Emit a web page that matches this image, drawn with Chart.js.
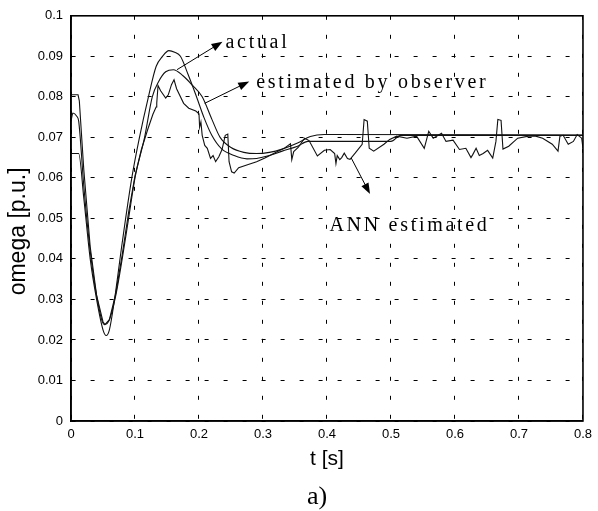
<!DOCTYPE html>
<html>
<head>
<meta charset="utf-8">
<script src="https://cdn.jsdelivr.net/npm/chart.js@4.4.0/dist/chart.umd.min.js"></script>
<style>
  html, body { margin: 0; padding: 0; background: #fff; }
</style>
</head>
<body>
<canvas id="myChart" width="598" height="511"></canvas>
<script>
// t [s] and omega [p.u.]
const tActual = [0, 0.012, 0.02, 0.03, 0.04, 0.05, 0.055, 0.06, 0.068, 0.08, 0.095, 0.107, 0.121, 0.133, 0.143, 0.153, 0.162, 0.171, 0.183, 0.195, 0.208, 0.22, 0.235, 0.255, 0.275, 0.29, 0.31, 0.33, 0.354, 0.37, 0.5, 0.515, 0.8]
const wActual = [0.066, 0.066, 0.055, 0.04, 0.03, 0.0225, 0.0211, 0.0225, 0.03, 0.044, 0.06, 0.07, 0.08, 0.0875, 0.09, 0.0914, 0.091, 0.09, 0.0855, 0.0805, 0.0748, 0.0705, 0.0672, 0.0655, 0.0647, 0.0648, 0.0655, 0.0666, 0.0678, 0.069, 0.069, 0.0705, 0.0705]

const tObserver = [0, 0.003, 0.009, 0.012, 0.02, 0.03, 0.04, 0.052, 0.06, 0.07, 0.08, 0.09, 0.1, 0.115, 0.127, 0.137, 0.148, 0.16, 0.175, 0.19, 0.205, 0.22, 0.233, 0.25, 0.27, 0.29, 0.31, 0.33, 0.354, 0.374, 0.396, 0.8]
const wObserver = [0.074, 0.076, 0.0752, 0.074, 0.058, 0.042, 0.031, 0.0238, 0.025, 0.031, 0.04, 0.05, 0.06, 0.07, 0.08, 0.0838, 0.0862, 0.0867, 0.0852, 0.0828, 0.08, 0.0745, 0.07, 0.0675, 0.0663, 0.066, 0.0663, 0.0671, 0.0686, 0.0702, 0.0707, 0.0706]

const tAnn = [0, 0.011, 0.013, 0.02, 0.03, 0.04, 0.05, 0.053, 0.06, 0.07, 0.08, 0.09, 0.1, 0.11, 0.12, 0.128, 0.133, 0.134, 0.136, 0.14, 0.148, 0.152, 0.157, 0.161, 0.165, 0.176, 0.184, 0.195, 0.2, 0.201, 0.203, 0.205, 0.209, 0.213, 0.218, 0.222, 0.226, 0.231, 0.236, 0.241, 0.245, 0.247, 0.251, 0.255, 0.262, 0.277, 0.29, 0.303, 0.319, 0.334, 0.343, 0.345, 0.348, 0.355, 0.365, 0.372, 0.385, 0.396, 0.405, 0.412, 0.414, 0.416, 0.42, 0.423, 0.427, 0.432, 0.436, 0.444, 0.455, 0.458, 0.463, 0.466, 0.473, 0.489, 0.498, 0.509, 0.525, 0.54, 0.552, 0.559, 0.566, 0.579, 0.586, 0.597, 0.607, 0.617, 0.625, 0.628, 0.633, 0.638, 0.644, 0.651, 0.659, 0.664, 0.667, 0.672, 0.675, 0.684, 0.698, 0.715, 0.726, 0.737, 0.752, 0.761, 0.764, 0.769, 0.777, 0.785, 0.791, 0.798, 0.8]
const wAnn = [0.0805, 0.0805, 0.079, 0.062, 0.043, 0.031, 0.0245, 0.0238, 0.025, 0.0315, 0.041, 0.0515, 0.0605, 0.067, 0.072, 0.0757, 0.0775, 0.0785, 0.0828, 0.0815, 0.0797, 0.0805, 0.083, 0.0842, 0.082, 0.0784, 0.0772, 0.0765, 0.0758, 0.0725, 0.0738, 0.0705, 0.068, 0.0673, 0.0648, 0.0655, 0.064, 0.0652, 0.067, 0.0705, 0.0708, 0.064, 0.0615, 0.0612, 0.0625, 0.0633, 0.064, 0.0649, 0.0662, 0.0674, 0.0684, 0.0645, 0.0665, 0.0675, 0.0698, 0.0692, 0.0654, 0.0668, 0.067, 0.066, 0.0635, 0.0655, 0.0645, 0.065, 0.0661, 0.0648, 0.0646, 0.0661, 0.0683, 0.0744, 0.074, 0.0673, 0.0666, 0.0683, 0.0695, 0.0703, 0.0698, 0.0703, 0.0673, 0.0715, 0.0698, 0.071, 0.069, 0.0693, 0.067, 0.0673, 0.065, 0.0658, 0.0673, 0.0655, 0.066, 0.0668, 0.0649, 0.069, 0.0744, 0.0742, 0.0671, 0.0678, 0.0698, 0.0703, 0.0703, 0.0698, 0.0683, 0.0666, 0.0703, 0.0705, 0.0683, 0.069, 0.0707, 0.0698, 0.0673]

// annotation labels and arrows, in data units [t, omega]
const notes = [
  { text: 'actual', at: [0.2414, 0.0921], from: [0.1656, 0.0867], to: [0.2367, 0.0936] },
  { text: 'estimated by observer', at: [0.2894, 0.0821], from: [0.2089, 0.0784], to: [0.2785, 0.0838] },
  { text: 'ANN estimated', at: [0.4039, 0.0469], from: [0.4379, 0.0649], to: [0.4673, 0.056] }
]

const pairs = (ts, ws) => ts.map((t, i) => ({ x: t, y: ws[i] }))

const buildLine = (ts, ws, smooth) => ({
  data: pairs(ts, ws),
  borderColor: '#111',
  borderWidth: 1.1,
  pointRadius: 0,
  fill: false,
  cubicInterpolationMode: smooth ? 'monotone' : 'default',
  tension: 0
})

// matlab style labels: 0.1, 0.01 ... no trailing zeros
const plainTick = v => String(parseFloat(Number(v).toFixed(4)))

const arrow = (ctx, x1, y1, x2, y2) => {
  let ang = Math.atan2(y2 - y1, x2 - x1)
  ctx.beginPath()
  ctx.moveTo(x1, y1)
  ctx.lineTo(x2 - 8 * Math.cos(ang), y2 - 8 * Math.sin(ang))
  ctx.stroke()
  ctx.beginPath()
  ctx.moveTo(x2, y2)
  ctx.lineTo(x2 - 11 * Math.cos(ang) + 4 * Math.sin(ang), y2 - 11 * Math.sin(ang) - 4 * Math.cos(ang))
  ctx.lineTo(x2 - 11 * Math.cos(ang) - 4 * Math.sin(ang), y2 - 11 * Math.sin(ang) + 4 * Math.cos(ang))
  ctx.closePath()
  ctx.fill()
}

const extras = {
  id: 'extras',
  afterDraw(chart) {
    const { ctx, chartArea: a, scales: { x, y } } = chart
    ctx.save()
    ctx.strokeStyle = '#000'
    ctx.fillStyle = '#000'
    ctx.lineWidth = 1.6
    ctx.strokeRect(a.left, a.top, a.right - a.left, a.bottom - a.top)

    ctx.lineWidth = 1
    notes.forEach(n => {
      arrow(ctx, x.getPixelForValue(n.from[0]), y.getPixelForValue(n.from[1]),
                 x.getPixelForValue(n.to[0]), y.getPixelForValue(n.to[1]))
    })
    ctx.font = '20px "Liberation Serif", "Times New Roman", serif'
    ctx.letterSpacing = '2.7px'
    ctx.textAlign = 'left'
    ctx.textBaseline = 'alphabetic'
    notes.forEach(n => {
      ctx.fillText(n.text, x.getPixelForValue(n.at[0]), y.getPixelForValue(n.at[1]))
    })
    ctx.letterSpacing = '0px'

    // y title sits a little below the middle of the axis in the original
    ctx.save()
    ctx.translate(19, (a.top + a.bottom) / 2 + 13)
    ctx.rotate(-Math.PI / 2)
    ctx.font = '23px "Liberation Sans", Arial, sans-serif'
    ctx.textAlign = 'center'
    ctx.textBaseline = 'middle'
    ctx.fillText('omega [p.u.]', 0, 0)
    ctx.restore()

    ctx.font = '26px "Liberation Serif", "Times New Roman", serif'
    ctx.textAlign = 'center'
    ctx.textBaseline = 'middle'
    ctx.fillText('a)', (a.left + a.right) / 2 - 10, 497)
    ctx.restore()
  }
}

const tickFont = { family: '"Liberation Sans", Arial, sans-serif', size: 13 }

new Chart(document.getElementById('myChart').getContext('2d'), {
  type: 'line',
  data: {
    datasets: [
      buildLine(tActual, wActual, true),
      buildLine(tObserver, wObserver, true),
      buildLine(tAnn, wAnn, false)
    ]
  },
  options: {
    responsive: false,
    animation: false,
    events: [],
    layout: { padding: { top: 14, right: 10, left: 0, bottom: 0 } },
    plugins: { legend: { display: false }, tooltip: { enabled: false } },
    scales: {
      x: {
        type: 'linear',
        min: 0,
        max: 0.8,
        afterFit: s => { s.height = 90 },
        grid: { color: '#000', lineWidth: 1, drawTicks: false },
        border: { display: true, color: '#000', width: 1.6, dash: [4, 15] },
        ticks: { stepSize: 0.1, color: '#000', font: tickFont, padding: 6, maxRotation: 0, callback: plainTick },
        title: {
          display: true,
          text: 't [s]',
          color: '#000',
          font: { family: '"Liberation Sans", Arial, sans-serif', size: 21 },
          padding: { top: 0, bottom: 39 }
        }
      },
      y: {
        min: 0,
        max: 0.1,
        afterFit: s => { s.width = 71 },
        grid: { color: '#000', lineWidth: 1, drawTicks: false },
        border: { display: true, color: '#000', width: 1.6, dash: [4, 15] },
        ticks: { stepSize: 0.01, color: '#000', font: tickFont, padding: 8, callback: plainTick }
      }
    }
  },
  plugins: [extras]
})
</script>
</body>
</html>
